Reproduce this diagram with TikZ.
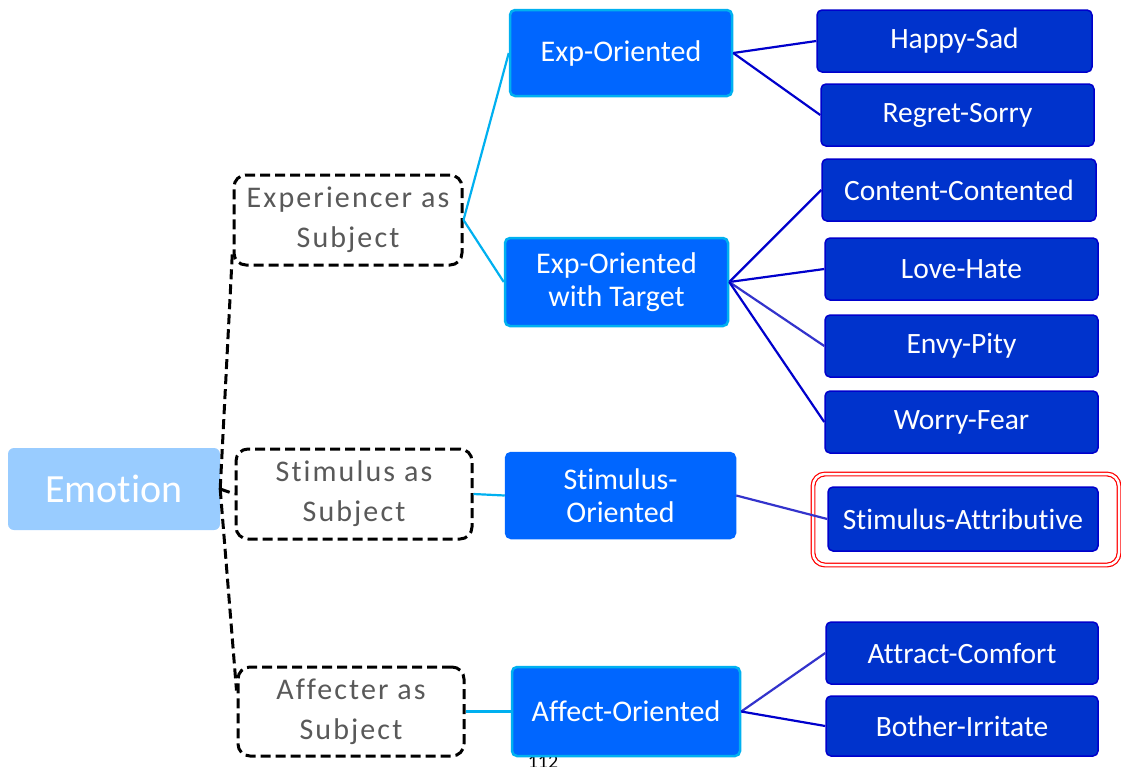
\documentclass[tikz,border=0pt]{standalone}
\usepackage{fontspec}
\setmainfont[Ligatures=NoCommon]{Carlito}
\newfontfamily\lightfont[LetterSpace=7,Ligatures=NoCommon]{Carlito}
\begin{document}
\begin{tikzpicture}[x=1pt,y=-1pt,
  rootbox/.style={fill=rootblue, rounded corners=6pt, text=white, font=\fontsize{40}{44}\selectfont, inner sep=0pt},
  subjbox/.style={draw=black, line width=3pt, dash pattern=on 10pt off 5pt, rounded corners=12pt, fill=white,
    text=black!65, font=\lightfont\fontsize{30}{40}\selectfont, align=center, inner sep=0pt},
  midbox/.style={fill=midblue, draw=midcyan, line width=2.5pt, rounded corners=5pt, text=white,
    font=\fontsize{30}{33}\selectfont, align=center, inner sep=0pt},
  leafbox/.style={fill=leafblue, draw=leafedge, line width=1.5pt, rounded corners=5pt, text=white,
    font=\fontsize{29.5}{33}\selectfont, inner sep=0pt},
  dashlink/.style={draw=black, line width=3pt, dash pattern=on 10pt off 5pt},
  cyanlink/.style={draw=midcyan, line width=2.2pt},
  leaflink/.style={draw=leafedge, line width=2.2pt},
]
\definecolor{rootblue}{HTML}{99CCFF}
\definecolor{midblue}{HTML}{0066FF}
\definecolor{midcyan}{HTML}{00B0F0}
\definecolor{leafblue}{HTML}{0033CC}
\definecolor{leafedge}{HTML}{0000CC}
\definecolor{softlink}{HTML}{3333CC}

\clip (0,0) rectangle (1121,766);
\fill[white] (0,0) rectangle (1121,766);

% page number, partly hidden under the bottom box
\node[font=\fontsize{20}{24}\selectfont, text=black, inner sep=0pt] (pg) at (543,762) {112};

% root
\node[rootbox, minimum width=212pt, minimum height=82pt] (emo) at (114,489) {Emotion};

% subject categories
\node[subjbox, minimum width=228pt, minimum height=90pt] (exps) at (348,220) {Experiencer as\\Subject};
\node[subjbox, minimum width=236pt, minimum height=90pt] (stims) at (354,494) {Stimulus as\\Subject};
\node[subjbox, minimum width=226pt, minimum height=89pt] (affs) at (351,711.5) {Affecter as\\Subject};

% orientation classes
\node[midbox, minimum width=222pt, minimum height=86pt] (expo) at (621,53) {Exp-Oriented};
\node[midbox, minimum width=223pt, minimum height=88pt] (expt) at (616.5,282) {Exp-Oriented\\with Target};
\node[midbox, draw=midblue, minimum width=229pt, minimum height=85pt] (stimo) at (620.5,495.5) {Stimulus-\\Oriented};
\node[midbox, minimum width=228pt, minimum height=89pt] (affo) at (626,711.5) {Affect-Oriented};

% leaf classes
\node[leafbox, minimum width=275pt, minimum height=62pt] (happy) at (954.5,41) {Happy-Sad};
\node[leafbox, minimum width=273pt, minimum height=62pt] (regret) at (957.5,115) {Regret-Sorry};
\node[leafbox, minimum width=274pt, minimum height=62pt] (content) at (959,190) {Content-Contented};
\node[leafbox, minimum width=273pt, minimum height=62pt] (love) at (961.5,269) {Love-Hate};
\node[leafbox, minimum width=273pt, minimum height=62pt] (envy) at (961.5,346) {Envy-Pity};
\node[leafbox, minimum width=273pt, minimum height=62pt] (worry) at (961.5,422) {Worry-Fear};
\node[leafbox, minimum width=270pt, minimum height=64pt] (stima) at (963,519) {Stimulus-Attributive};
\node[leafbox, minimum width=272pt, minimum height=62pt] (attract) at (962,653) {Attract-Comfort};
\node[leafbox, minimum width=272pt, minimum height=60pt] (bother) at (962,726) {Bother-Irritate};

% highlight frame
\node[draw=red, double=white, line width=1.2pt, double distance=2.5pt, rounded corners=12pt,
  minimum width=306pt, minimum height=91pt, inner sep=0pt] (hl) at (966,519.5) {};

% root links
\draw[dashlink] (emo.east) -- ([yshift=-30pt]exps.west);
\draw[dashlink] (emo.east) -- (stims.west);
\draw[dashlink] (emo.east) -- ([yshift=21pt]affs.west);

% subject to orientation links
\draw[cyanlink] (exps.east) -- (expo.west);
\draw[cyanlink] (exps.east) -- (expt.west);
\draw[cyanlink] (stims.east) -- (stimo.west);
\draw[cyanlink] (affs.east) -- (affo.west);

% orientation to leaf links
\draw[leaflink] (expo.east) -- (happy.west);
\draw[leaflink] (expo.east) -- (regret.west);
\draw[leaflink] (expt.east) -- (content.west);
\draw[leaflink] (expt.east) -- (love.west);
\draw[leaflink, draw=softlink] (expt.east) -- (envy.west);
\draw[leaflink] (expt.east) -- (worry.west);
\draw[leaflink, draw=softlink] (stimo.east) -- (stima.west);
\draw[leaflink, draw=softlink] (affo.east) -- (attract.west);
\draw[leaflink] (affo.east) -- (bother.west);
\end{tikzpicture}
\end{document}
